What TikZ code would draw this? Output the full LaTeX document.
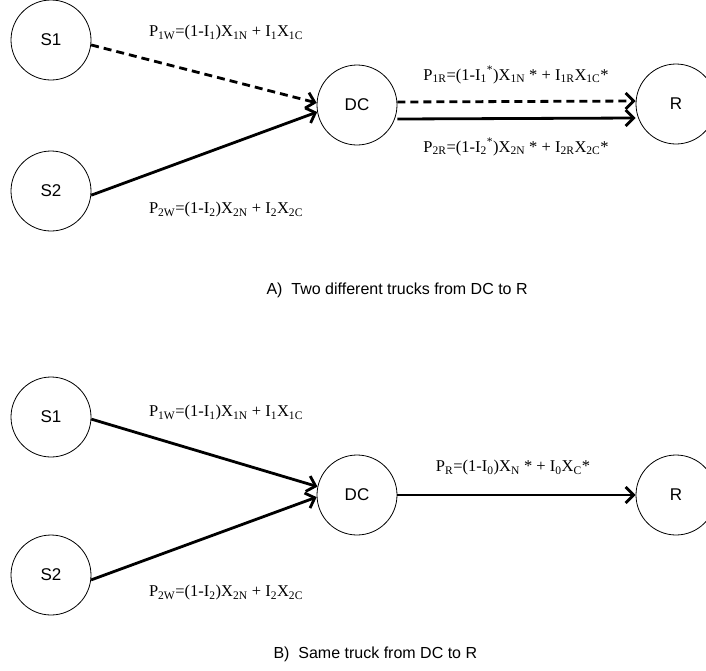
\documentclass[tikz,border=0pt]{standalone}
\usepackage{fontspec}
\setmainfont{Liberation Serif}
\newfontfamily\arialfont{Liberation Sans}
\usetikzlibrary{arrows.meta}
\newcommand{\sbx}[1]{\textsubscript{#1}}
\tikzset{
  place/.style={draw, circle, line width=0.8pt, minimum size=80pt, inner sep=0pt,
    font=\arialfont\fontsize{17}{20}\selectfont},
  flow/.style={line width=2.8pt, -{Straight Barb[length=8pt,width=16pt]}},
  truck/.style={flow, dash pattern=on 8pt off 5pt},
  cost/.style={font=\fontsize{16.5}{19}\selectfont},
  caption/.style={font=\arialfont\fontsize{16}{19}\selectfont, anchor=west}
}
\begin{document}
\begin{tikzpicture}[x=1pt,y=-1pt]
        \useasboundingbox (0,0) rectangle (706,670);
                        % A) two trucks
                        \node[place] (s1a) at (51,40) {S1};
                        \node[place] (s2a) at (51,191) {S2};
                        \node[place] (dca) at (357,105) {DC};
                        \node[place] (ra) at (676,104) {R};
                        \draw[truck] (s1a.-7) -- (dca.177);
                        \draw[flow] (s2a.-6) -- (dca.190);
                        \draw[truck] ([yshift=3pt]dca.east) -- ([yshift=3pt]ra.west);
                        \draw[flow] ([yshift=-14pt]dca.east) -- ([yshift=-14pt]ra.west);
                        \node[cost] (p1wa) at (226,33) {P\sbx{1W}=(1-I\sbx{1})X\sbx{1N} + I\sbx{1}X\sbx{1C}};
                        \node[cost] (p2wa) at (226,210) {P\sbx{2W}=(1-I\sbx{2})X\sbx{2N} + I\sbx{2}X\sbx{2C}};
                        \node[cost] (p1ra) at (516,75) {P\sbx{1R}=(1-I\sbx{1}\textsuperscript{*})X\sbx{1N} * + I\sbx{1R}X\sbx{1C}*};
                        \node[cost] (p2ra) at (516,147) {P\sbx{2R}=(1-I\sbx{2}\textsuperscript{*})X\sbx{2N} * + I\sbx{2R}X\sbx{2C}*};
                        \node[caption] (capa) at (263,290) {A)\ \ Two different trucks from DC to R};
                        % B) one truck
                        \node[place] (s1b) at (51,417) {S1};
                        \node[place] (s2b) at (51,575) {S2};
                        \node[place] (dcb) at (357,495) {DC};
                        \node[place] (rb) at (676,495) {R};
                        \draw[flow] (s1b.-3) -- (dcb.168);
                        \draw[flow] (s2b.-7) -- (dcb.183);
                        \draw[flow] (dcb) -- (rb);
                        \node[cost] (p1wb) at (226,413) {P\sbx{1W}=(1-I\sbx{1})X\sbx{1N} + I\sbx{1}X\sbx{1C}};
                        \node[cost] (p2wb) at (226,593) {P\sbx{2W}=(1-I\sbx{2})X\sbx{2N} + I\sbx{2}X\sbx{2C}};
                        \node[cost] (prb) at (513,468) {P\sbx{R}=(1-I\sbx{0})X\sbx{N} * + I\sbx{0}X\sbx{C}*};
                        \node[caption] (capb) at (270,654) {B)\ \ Same truck from DC to R};
        \end{tikzpicture}
\end{document}
